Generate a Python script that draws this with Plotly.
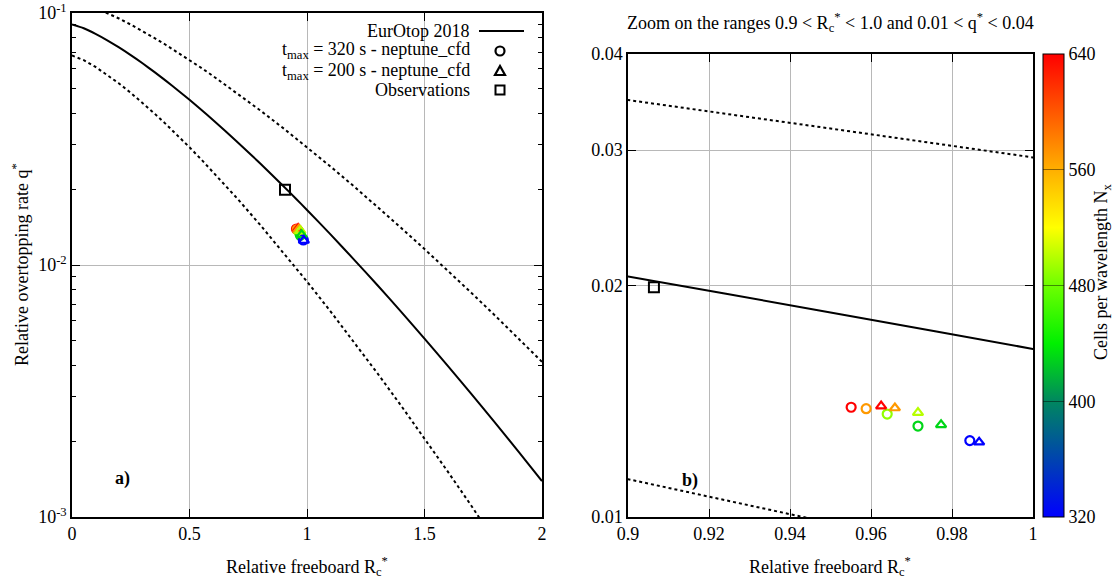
import plotly.graph_objects as go

# ---------------- data ----------------
rc_curve = [0.0, 0.05, 0.1, 0.15, 0.2, 0.25, 0.3, 0.35, 0.4, 0.45, 0.5, 0.55, 0.6,
            0.7, 0.8, 0.9, 0.95, 1.0, 1.1, 1.2, 1.3, 1.4, 1.5, 1.6, 1.7, 1.8, 1.9, 2.0]
q_eurotop = [0.09, 0.08695, 0.08267, 0.07794, 0.07302, 0.06806, 0.06316, 0.05839,
             0.05378, 0.04940, 0.04523, 0.04131, 0.03763, 0.03101, 0.02534, 0.02055,
             0.01845, 0.01654, 0.01323, 0.01051, 0.008309, 0.006530, 0.005104,
             0.003972, 0.003075, 0.002370, 0.001818, 0.001389]
q_upper = [0.1122, 0.10919, 0.1049, 0.10013, 0.09509, 0.08995, 0.08478, 0.07966,
           0.07465, 0.06979, 0.06508, 0.06058, 0.05626, 0.04827, 0.04114, 0.03485,
           0.03200, 0.02935, 0.02459, 0.02051, 0.01701, 0.01406, 0.01157, 0.009487,
           0.007746, 0.006303, 0.005109, 0.004128]
q_lower = [0.06779, 0.06500, 0.06113, 0.05689, 0.05254, 0.04822, 0.04403, 0.04000,
           0.03620, 0.03263, 0.02931, 0.02624, 0.02342, 0.01850, 0.01446, 0.01120,
           0.009824, 0.008597, 0.006548, 0.004949, 0.003715, 0.002769, 0.002052,
           0.001510, 0.001106, 0.0008047, 0.000583, 0.00042]

rc_320 = [0.9551, 0.9588, 0.9640, 0.9716, 0.9844]
q_320 = [0.01389, 0.01383, 0.01361, 0.01313, 0.01257]
nx_320 = [640, 570, 490, 430, 320]

rc_200 = [0.9625, 0.9659, 0.9716, 0.9773, 0.9867]
q_200 = [0.01394, 0.01386, 0.01367, 0.01318, 0.01251]
nx_200 = [640, 570, 500, 430, 320]

rc_obs = [0.9064]
q_obs = [0.0199]

legend_labels = ["EurOtop 2018", "t<sub>max</sub> = 320 s - neptune_cfd",
                 "t<sub>max</sub> = 200 s - neptune_cfd", "Observations"]
cbar_ticks = [320, 400, 480, 560, 640]

# ---------------- layout helpers ----------------
W, H = 1115, 581
ML, MR, MT, MB = 72, 82, 13, 64          # plot area: x 72..1033, y 13..517
PW, PH = W - ML - MR, H - MT - MB
FONT = "Liberation Serif"
FS = 18


def X(px):
    return (px - ML) / PW


def Y(py):
    return (H - MB - py) / PH


fig = go.Figure()

for (xa, ya) in [("x", "y"), ("x2", "y2")]:
    fig.add_trace(go.Scatter(x=rc_curve, y=q_upper, mode="lines", xaxis=xa, yaxis=ya,
                             line=dict(color="black", width=2, dash="3px,3px"),
                             showlegend=False, hoverinfo="skip"))
    fig.add_trace(go.Scatter(x=rc_curve, y=q_lower, mode="lines", xaxis=xa, yaxis=ya,
                             line=dict(color="black", width=2, dash="3px,3px"),
                             showlegend=False, hoverinfo="skip"))
    fig.add_trace(go.Scatter(x=rc_curve, y=q_eurotop, mode="lines", xaxis=xa, yaxis=ya,
                             line=dict(color="black", width=2, shape="spline", smoothing=0.6),
                             showlegend=False))
    fig.add_trace(go.Scatter(x=rc_320, y=q_320, mode="markers", xaxis=xa, yaxis=ya,
                             marker=dict(symbol="circle-open", size=9, color=nx_320,
                                         coloraxis="coloraxis", line=dict(width=2.2)),
                             showlegend=False))
    fig.add_trace(go.Scatter(x=rc_200, y=q_200, mode="markers", xaxis=xa, yaxis=ya,
                             marker=dict(symbol="triangle-up-open", size=9, color=nx_200,
                                         coloraxis="coloraxis", line=dict(width=2.2)),
                             showlegend=False))
    fig.add_trace(go.Scatter(x=rc_obs, y=q_obs, mode="markers", xaxis=xa, yaxis=ya,
                             marker=dict(symbol="square-open", size=10, color="black",
                                         line=dict(width=2)),
                             showlegend=False))

axis_common = dict(showline=True, linecolor="black", linewidth=1.5, mirror="ticks",
                   ticks="inside", ticklen=8, tickwidth=1.2, tickcolor="black",
                   showgrid=True, gridcolor="#b8b8b8", gridwidth=1, zeroline=False,
                   ticklabeloverflow="allow",
                   tickfont=dict(family=FONT, size=FS, color="black"))

minor_log = [k * 10 ** e for e in (-3, -2) for k in range(2, 10)]

fig.update_layout(
    width=W, height=H,
    margin=dict(l=ML, r=MR, t=MT, b=MB, autoexpand=False),
    paper_bgcolor="white", plot_bgcolor="white",
    font=dict(family=FONT, size=FS, color="black"),
    xaxis=dict(domain=[X(72), X(542)], range=[0, 2],
               tickvals=[0, 0.5, 1, 1.5, 2], ticktext=["0", "0.5", "1", "1.5", "2"],
               anchor="y", **axis_common),
    yaxis=dict(domain=[Y(517), Y(13)], type="log", range=[-3, -1],
               tickvals=[0.001, 0.01, 0.1],
               ticktext=["10<sup>-3</sup>", "10<sup>-2</sup>", "10<sup>-1</sup>"],
               minor=dict(tickvals=minor_log, ticks="inside", ticklen=4,
                          tickcolor="black", showgrid=False),
               anchor="x", **axis_common),
    xaxis2=dict(domain=[X(628), X(1033)], range=[0.9, 1.0],
                tickvals=[0.9, 0.92, 0.94, 0.96, 0.98, 1.0],
                ticktext=["0.9", "0.92", "0.94", "0.96", "0.98", "1"],
                anchor="y2", **axis_common),
    yaxis2=dict(domain=[Y(517), Y(54)], type="log", range=[-2, -1.39794],
                tickvals=[0.01, 0.02, 0.03, 0.04],
                ticktext=["0.01", "0.02", "0.03", "0.04"],
                anchor="x2", **axis_common),
    coloraxis=dict(
        cmin=320, cmax=640,
        colorscale=[[0.0, "rgb(0,0,255)"], [0.25, "rgb(0,135,95)"],
                    [0.375, "rgb(0,240,0)"], [0.5, "rgb(110,255,0)"],
                    [0.625, "rgb(255,255,0)"], [0.75, "rgb(255,175,0)"],
                    [1.0, "rgb(255,0,0)"]],
        colorbar=dict(x=X(1043), xanchor="left", thickness=21, thicknessmode="pixels",
                      y=Y(517), yanchor="bottom", len=(517 - 54) / PH, lenmode="fraction",
                      outlinecolor="black", outlinewidth=1, xpad=0, ypad=0,
                      tickvals=cbar_ticks, ticks="inside", ticklen=21,
                      tickcolor="rgba(0,0,0,0.45)",
                      tickfont=dict(family=FONT, size=FS, color="black")),
    ),
)


def text_ann(px, py, text, angle=0, xanchor="center"):
    return dict(x=X(px), y=Y(py), xref="paper", yref="paper", showarrow=False,
                xanchor=xanchor, yanchor="middle", textangle=angle, text=text,
                font=dict(family=FONT, size=FS, color="black"))


ann = [
    text_ann(307, 566, "Relative freeboard R<sub>c</sub><sup>*</sup>"),
    text_ann(830, 566, "Relative freeboard R<sub>c</sub><sup>*</sup>"),
    text_ann(20, 265, "Relative overtopping rate q<sup>*</sup>", angle=-90),
    text_ann(830, 22, "Zoom on the ranges 0.9 &lt; R<sub>c</sub><sup>*</sup> &lt; 1.0 "
                      "and 0.01 &lt; q<sup>*</sup> &lt; 0.04"),
    text_ann(122, 478, "<b>a)</b>"),
    text_ann(690, 480, "<b>b)</b>"),
    text_ann(1102, 272, "Cells per wavelength N<sub>x</sub>", angle=-90),
]
leg_y = [31, 51, 71, 90]
for lab, py in zip(legend_labels, leg_y):
    ann.append(text_ann(472, py, lab, xanchor="right"))

shapes = []
shapes.append(dict(type="line", xref="paper", yref="paper",
                   x0=X(479), x1=X(524), y0=Y(31), y1=Y(31),
                   line=dict(color="black", width=2)))
cx = 500
shapes.append(dict(type="circle", xref="paper", yref="paper",
                   x0=X(cx - 4.5), x1=X(cx + 4.5), y0=Y(51 + 4.5), y1=Y(51 - 4.5),
                   line=dict(color="black", width=2.2)))
shapes.append(dict(type="path", xref="paper", yref="paper",
                   path=f"M {X(cx-5)},{Y(75)} L {X(cx+5)},{Y(75)} L {X(cx)},{Y(66)} Z",
                   line=dict(color="black", width=2.2)))
shapes.append(dict(type="rect", xref="paper", yref="paper",
                   x0=X(cx - 4.5), x1=X(cx + 4.5), y0=Y(90 + 4.5), y1=Y(90 - 4.5),
                   line=dict(color="black", width=2)))

fig.update_layout(annotations=ann, shapes=shapes)

fig.write_html("out.html",
               config={"displayModeBar": False},
               post_script="document.body.style.margin='0';"
                           "document.body.style.overflow='hidden';")
